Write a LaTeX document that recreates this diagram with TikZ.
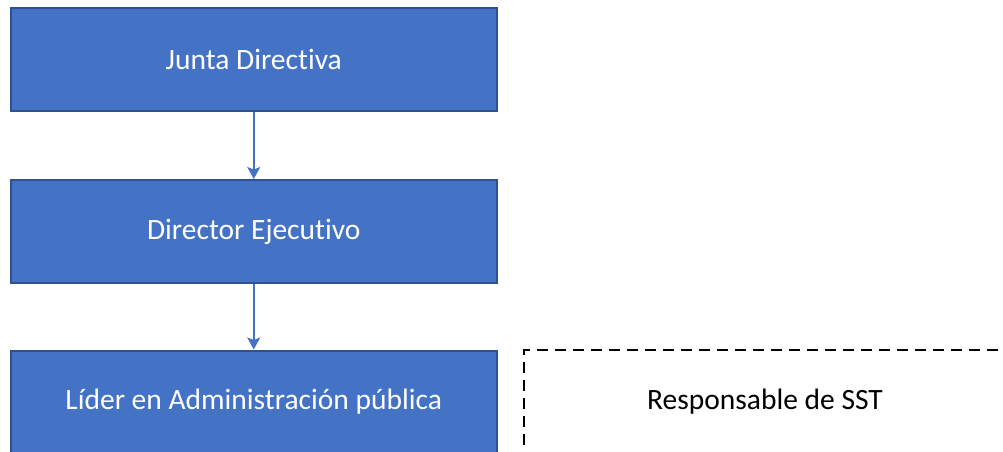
\documentclass[tikz,border=0pt]{standalone}
\usepackage{fontspec}
\setmainfont[Ligatures=NoCommon]{Carlito}
\usetikzlibrary{arrows.meta}
\definecolor{boxfill}{HTML}{4472C4}
\definecolor{boxline}{HTML}{2F528F}
\begin{document}
\begin{tikzpicture}[x=1pt,y=-1pt,
  orgbox/.style={draw=boxline,line width=2pt,fill=boxfill,text=white,minimum width=486pt,minimum height=103pt,inner sep=0pt,font=\fontsize{29.5}{34}\selectfont},
  dashbox/.style={draw=black,line width=2pt,dash pattern=on 11pt off 7pt,minimum width=482pt,minimum height=104pt,inner sep=0pt,font=\fontsize{29.5}{34}\selectfont},
  conn/.style={draw=boxfill,line width=1.5pt,-{Stealth[length=12pt,width=13pt,inset=2.5pt]}}]
\useasboundingbox (0,0) rectangle (1003,451);
\begin{scope}
\clip (0,0) rectangle (1003,451);
\node[orgbox] (jd) at (253.75,59.25) {Junta Directiva};
\node[orgbox] (de) at (253.75,231.5) {Director Ejecutivo};
\node[orgbox] (la) at (253.75,402) {Líder en Administración pública};
\node[dashbox] (rs) at (765,402) {Responsable de SST};
\draw[conn] (jd.south) -- (de.north);
\draw[conn] (de.south) -- (la.north);
\end{scope}
\end{tikzpicture}
\end{document}
